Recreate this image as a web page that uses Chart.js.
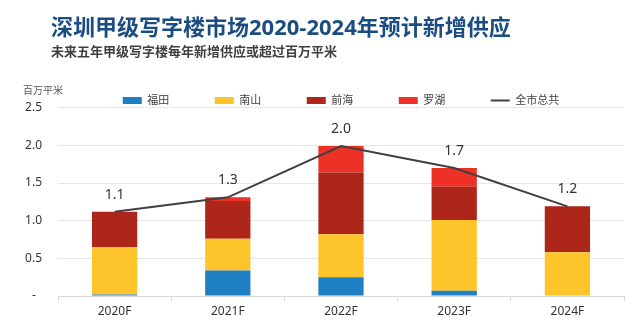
<!DOCTYPE html>
<html lang="zh-CN">
<head>
<meta charset="utf-8">
<title>深圳甲级写字楼市场2020-2024年预计新增供应</title>
<script src="https://cdn.jsdelivr.net/npm/chart.js@4.4.1/dist/chart.umd.min.js"></script>
<style>
  body { margin: 0; background: #fff; }
  #marco { position: relative; width: 640px; height: 336px; font-family: "Noto Sans", "Noto Sans CJK SC", sans-serif; }
  #titulo { position: absolute; left: 51px; top: 15px; font-size: 22px; line-height: 22px; font-weight: bold; color: #1b4d82; white-space: nowrap; }
  #subtitulo { position: absolute; left: 51px; top: 44px; font-size: 13px; line-height: 14px; font-weight: bold; color: #404040; white-space: nowrap; }
  #unidad { position: absolute; left: 23px; top: 85px; font-size: 10px; line-height: 11px; color: #595959; white-space: nowrap; }
</style>
</head>
<body>
<div id="marco">
  <canvas id="grafico"></canvas>
  <div id="titulo">深圳甲级写字楼市场2020-2024年预计新增供应</div>
  <div id="subtitulo">未来五年甲级写字楼每年新增供应或超过百万平米</div>
  <div id="unidad">百万平米</div>
</div>
<script>
const categorias = ["2020F", "2021F", "2022F", "2023F", "2024F"];
const futian = [0.02, 0.34, 0.25, 0.07, 0];
const nanshan = [0.63, 0.42, 0.57, 0.94, 0.58];
const qianhai = [0.47, 0.50, 0.82, 0.44, 0.61];
const luohu = [0, 0.05, 0.35, 0.25, 0];
const quanshi = [1.12, 1.31, 1.99, 1.70, 1.19];

const fuente = '"Noto Sans", "Noto Sans CJK SC", sans-serif';

// etiquetas encima de la linea del total
const etiquetasTotal = {
    id: "etiquetasTotal",
    afterDatasetsDraw(chart) {
        const meta = chart.getDatasetMeta(4);
        const ctx = chart.ctx;
        ctx.save();
        ctx.font = "14px " + fuente;
        ctx.fillStyle = "#333333";
        ctx.textAlign = "center";
        ctx.textBaseline = "middle";
        meta.data.forEach((punto, i) => {
            ctx.fillText(quanshi[i].toFixed(1), punto.x, punto.y - 17);
        });
        ctx.restore();
    }
};

function barra(nombre, valores, color) {
    return {
        type: "bar",
        label: nombre,
        data: valores,
        backgroundColor: color,
        borderWidth: 0,
        barPercentage: 0.4,
        categoryPercentage: 1.0
    };
}

new Chart(document.getElementById("grafico").getContext("2d"), {
    data: {
        labels: categorias,
        datasets: [
            barra("福田", futian, "#1e7fc2"),
            barra("南山", nanshan, "#fec42b"),
            barra("前海", qianhai, "#ac261a"),
            barra("罗湖", luohu, "#ee3126"),
            {
                type: "line",
                label: "全市总共",
                data: quanshi,
                borderColor: "#404040",
                backgroundColor: "#404040",
                borderWidth: 2,
                pointRadius: 0,
                fill: false,
                tension: 0,
                order: -1
            }
        ]
    },
    plugins: [etiquetasTotal],
    options: {
        responsive: true,
        maintainAspectRatio: false,
        animation: false,
        layout: { padding: { top: 49.5, right: 16, bottom: 14.6, left: 0 } },
        plugins: {
            tooltip: { enabled: false },
            legend: {
                position: "top",
                fullSize: false,
                maxHeight: 58.2,
                labels: {
                    font: { size: 11, family: fuente },
                    color: "#404040",
                    usePointStyle: true,
                    pointStyleWidth: 19,
                    boxHeight: 7,
                    padding: 45.5,
                    sort: (a, b) => a.datasetIndex - b.datasetIndex,
                    generateLabels(chart) {
                        const items = Chart.defaults.plugins.legend.labels.generateLabels(chart);
                        items.forEach(item => {
                            if (chart.data.datasets[item.datasetIndex].type === "line") {
                                item.pointStyle = "line";
                                item.strokeStyle = "#404040";
                                item.lineWidth = 2;
                            } else {
                                item.pointStyle = "rect";
                                item.lineWidth = 0;
                            }
                        });
                        return items;
                    }
                }
            }
        },
        scales: {
            x: {
                stacked: true,
                grid: {
                    display: true,
                    drawOnChartArea: false,
                    drawTicks: true,
                    tickLength: 5,
                    color: "#d9d9d9"
                },
                border: { display: true, color: "#d9d9d9" },
                ticks: { font: { size: 12, family: fuente }, color: "#333333", padding: 3 }
            },
            y: {
                stacked: true,
                min: 0,
                max: 2.5,
                afterFit(scale) { scale.width = 58; },
                grid: { color: "#e6e6e6", drawTicks: false },
                border: { display: false },
                ticks: {
                    stepSize: 0.5,
                    padding: 16,
                    font: { size: 12, family: fuente },
                    color: "#333333",
                    callback: v => v === 0 ? "-  " : v.toFixed(1)
                }
            }
        }
    }
});
</script>
</body>
</html>
